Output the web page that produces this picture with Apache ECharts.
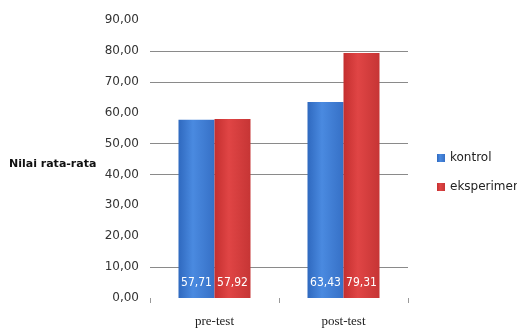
<!DOCTYPE html>
<html>
<head>
<meta charset="utf-8">
<script src="https://cdn.jsdelivr.net/npm/echarts@6/dist/echarts.min.js"></script>
<style>
  html, body { margin: 0; padding: 0; background: #fff; }
  #chart { width: 517px; height: 328px; }
</style>
</head>
<body>
<div id="chart"></div>
<script>
var categories = ['pre-test', 'post-test'];
var kontrol = [57.71, 63.43];
var eksperimen = [57.92, 79.31];

var chart = echarts.init(document.getElementById('chart'));

function fmt(v) {
    return v.toFixed(2).replace('.', ',');
}

// gridlines as they show in the picture (0..90)
var gridCol = '#8a8a8a', none = 'rgba(0,0,0,0)';
var splitColors = [none, gridCol, none, none, gridCol, gridCol, none, gridCol, gridCol, none];

var barLabel = {
    show: true,
    position: 'insideBottom',
    distance: 9,
    color: '#fff',
    fontSize: 12,
    fontFamily: 'DejaVu Sans Condensed',
    formatter: function (p) { return fmt(p.value); }
};

chart.setOption({
    animation: false,
    grid: { left: 150, right: 109, top: 20, bottom: 28 },
    legend: {
        orient: 'vertical',
        left: 432,
        top: 147,
        itemWidth: 8,
        itemHeight: 8,
        itemGap: 17,
        icon: 'rect',
        textStyle: { fontSize: 12, color: '#222', fontFamily: 'DejaVu Sans' },
        data: ['kontrol', 'eksperimen']
    },
    graphic: [{
        type: 'text',
        left: 9,
        top: 159,
        style: { text: 'Nilai rata-rata', fontSize: 11, fontWeight: 'bold', fill: '#111', fontFamily: 'DejaVu Sans' }
    }],
    xAxis: {
        type: 'category',
        data: categories,
        axisLine: { show: false },
        axisTick: { show: true, length: 5, lineStyle: { color: '#999' } },
        axisLabel: { margin: 17, fontSize: 13, color: '#222', fontFamily: 'Liberation Serif' }
    },
    yAxis: {
        type: 'value',
        min: 0,
        max: 90,
        interval: 10,
        axisLine: { show: false },
        axisTick: { show: false },
        splitLine: { lineStyle: { color: splitColors, width: 1 } },
        axisLabel: { margin: 11, fontSize: 12, color: '#333', fontFamily: 'DejaVu Sans', formatter: fmt }
    },
    series: [{
        name: 'kontrol',
        type: 'bar',
        barWidth: 36,
        barGap: '0%',
        data: kontrol,
        label: barLabel,
        itemStyle: {
            color: new echarts.graphic.LinearGradient(0, 0, 1, 0, [
                { offset: 0, color: '#2f69bf' },
                { offset: 0.4, color: '#4a8ae0' },
                { offset: 1, color: '#3670c6' }
            ])
        }
    }, {
        name: 'eksperimen',
        type: 'bar',
        barWidth: 36,
        data: eksperimen,
        label: barLabel,
        itemStyle: {
            color: new echarts.graphic.LinearGradient(0, 0, 1, 0, [
                { offset: 0, color: '#c42f2f' },
                { offset: 0.4, color: '#e04545' },
                { offset: 1, color: '#c63535' }
            ])
        }
    }]
});
</script>
</body>
</html>
